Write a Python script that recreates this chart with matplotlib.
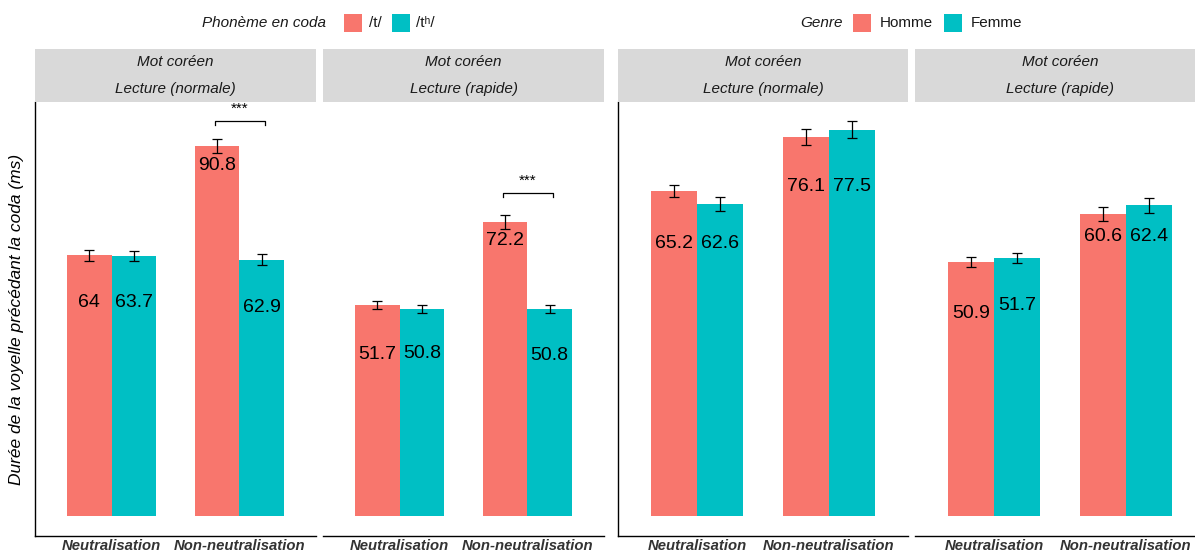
import matplotlib
matplotlib.use("Agg")
import matplotlib.pyplot as plt
from matplotlib.patches import Rectangle

# ---- data ----
categories = ["Neutralisation", "Non-neutralisation"]
strip_top = "Mot coréen"
strip_bottom = ["Lecture (normale)", "Lecture (rapide)"]

# left figure: coda phoneme /t/ vs /tʰ/
coda_labels = ["/t/", "/tʰ/"]
coda_t_normal = [64.0, 90.8]
coda_th_normal = [63.7, 62.9]
coda_t_normal_se = [1.35, 1.65]
coda_th_normal_se = [1.2, 1.35]
coda_t_fast = [51.7, 72.2]
coda_th_fast = [50.8, 50.8]
coda_t_fast_se = [1.0, 1.7]
coda_th_fast_se = [0.9, 1.0]
signif_text = "***"

# right figure: speaker gender
genre_labels = ["Homme", "Femme"]
homme_normal = [65.2, 76.1]
femme_normal = [62.6, 77.5]
homme_normal_se = [1.2, 1.6]
femme_normal_se = [1.4, 1.7]
homme_fast = [50.9, 60.6]
femme_fast = [51.7, 62.4]
homme_fast_se = [1.0, 1.4]
femme_fast_se = [1.0, 1.5]

ylabel = "Durée de la voyelle précédant la coda (ms)"

# ---- style ----
PINK = "#F8766D"
TEAL = "#00BFC4"
STRIP = "#D9D9D9"
FONT = ["Liberation Sans", "DejaVu Sans"]
plt.rcParams["font.family"] = FONT

W, H = 1195, 554
fig = plt.figure(figsize=(W / 100, H / 100), dpi=100)
fig.patch.set_facecolor("white")

PANEL_TOP, PANEL_BOT = 102, 536
STRIP_TOP = 49
BAR_W = 0.35
CAP = 3.9

# text drop (pixels) of each value label below its bar top, per panel: [pink..., teal...]
label_drop_px = {
    0: ([47, 20], [46, 48]),
    1: ([49, 19], [45, 47]),
    2: ([52, 50], [39, 57]),
    3: ([51, 22], [47, 31]),
}


def px_axes(x0, x1, y0, y1):
    return fig.add_axes([x0 / W, 1 - y1 / H, (x1 - x0) / W, (y1 - y0) / H])


def panel(idx, x0, x1, ylim, a, b, a_se, b_se, strip_label, left_axis, bracket=None):
    ax = px_axes(x0, x1, PANEL_TOP, PANEL_BOT)
    ax.set_xlim(0.4, 2.6)
    ax.set_ylim(*ylim)
    pos = [1, 2]
    xa = [p - BAR_W / 2 for p in pos]
    xb = [p + BAR_W / 2 for p in pos]
    ax.bar(xa, a, width=BAR_W, color=PINK, linewidth=0)
    ax.bar(xb, b, width=BAR_W, color=TEAL, linewidth=0)
    ax.errorbar(xa, a, yerr=a_se, fmt="none", ecolor="black", elinewidth=0.9,
                capsize=CAP, capthick=0.9)
    ax.errorbar(xb, b, yerr=b_se, fmt="none", ecolor="black", elinewidth=0.9,
                capsize=CAP, capthick=0.9)
    drops_a, drops_b = label_drop_px[idx]
    for xs, vals, drops in ((xa, a, drops_a), (xb, b, drops_b)):
        for x, v, d in zip(xs, vals, drops):
            ax.annotate(f"{v:g}", (x, v), xytext=(0, -d * 0.72), textcoords="offset points",
                        ha="center", va="center", fontsize=14, color="black")
    if bracket is not None:
        bx0, bx1, by, ty = bracket
        tick = (ylim[1] - ylim[0]) * 0.008
        ax.plot([bx0, bx0, bx1, bx1], [by - tick, by, by, by - tick], color="black", lw=0.9)
        ax.text((bx0 + bx1) / 2, ty, signif_text, ha="center", va="center", fontsize=11)
    for s in ("top", "right"):
        ax.spines[s].set_visible(False)
    ax.spines["left"].set_visible(left_axis)
    for s in ("left", "bottom"):
        ax.spines[s].set_linewidth(1.0)
        ax.spines[s].set_color("black")
    ax.set_yticks([])
    ax.set_xticks(pos)
    ax.set_xticklabels(categories, fontsize=10.7, fontweight="bold", fontstyle="italic",
                       color="#333333")
    ax.tick_params(axis="x", length=0, pad=2.5)
    ax.patch.set_alpha(0)

    sax = px_axes(x0, x1, STRIP_TOP, PANEL_TOP)
    sax.set_facecolor(STRIP)
    sax.set_xticks([]); sax.set_yticks([])
    for s in sax.spines.values():
        s.set_visible(False)
    sax.text(0.5, 0.75, strip_top, transform=sax.transAxes, ha="center", va="center",
             fontsize=11, fontstyle="italic", color="#1a1a1a")
    sax.text(0.5, 0.25, strip_label, transform=sax.transAxes, ha="center", va="center",
             fontsize=11, fontstyle="italic", color="#1a1a1a")
    return ax


left_ylim = (-4.95, 101.6)
right_ylim = (-4.08, 83.1)

panel(0, 35, 316, left_ylim, coda_t_normal, coda_th_normal, coda_t_normal_se,
      coda_th_normal_se, strip_bottom[0], True, bracket=(1.81, 2.2, 96.9, 100.0))
panel(1, 323, 604, left_ylim, coda_t_fast, coda_th_fast, coda_t_fast_se,
      coda_th_fast_se, strip_bottom[1], False, bracket=(1.81, 2.2, 79.2, 82.3))
panel(2, 618, 908, right_ylim, homme_normal, femme_normal, homme_normal_se,
      femme_normal_se, strip_bottom[0], True)
panel(3, 915, 1205, right_ylim, homme_fast, femme_fast, homme_fast_se,
      femme_fast_se, strip_bottom[1], False)

fig.text(17 / W, 1 - 319 / H, ylabel, rotation=90, ha="center", va="center",
         fontsize=12.5, fontstyle="italic", color="black")


def legend_key(x0, color):
    fig.add_artist(Rectangle((x0 / W, 1 - 32 / H), 18 / W, 18 / H,
                             transform=fig.transFigure, color=color, linewidth=0))


def legend_text(x, s, italic=False):
    fig.text(x / W, 1 - 23 / H, s, ha="left", va="center", fontsize=11,
             fontstyle="italic" if italic else "normal", color="#1a1a1a")


legend_text(202, "Phonème en coda", italic=True)
legend_key(344, PINK)
legend_text(369, coda_labels[0])
legend_key(392, TEAL)
legend_text(416, coda_labels[1])

legend_text(800, "Genre", italic=True)
legend_key(853, PINK)
legend_text(880, genre_labels[0])
legend_key(944, TEAL)
legend_text(971, genre_labels[1])

fig.savefig("out.png", dpi=100)
